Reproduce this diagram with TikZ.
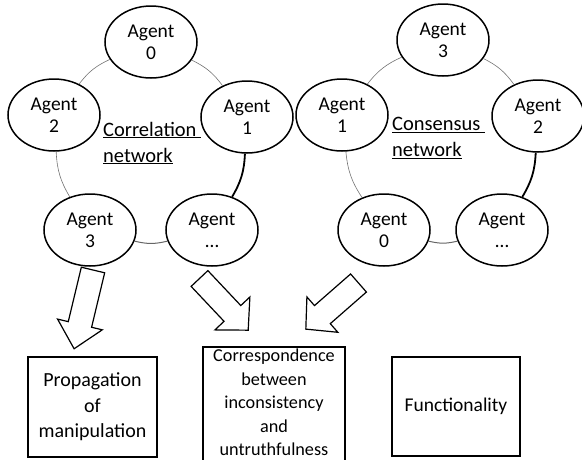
\documentclass[tikz,border=0pt]{standalone}
\usepackage{fontspec}
\setmainfont{Carlito}
\usetikzlibrary{shapes.geometric}
\newcommand{\blockarr}[6]{%
  \begin{scope}[shift={#1}, rotate=#2]
    \draw[barrow] (0,{-#4/2}) -- ({#3-#6},{-#4/2}) -- ({#3-#6},{-#5/2}) -- (#3,0)
      -- ({#3-#6},{#5/2}) -- ({#3-#6},{#4/2}) -- (0,{#4/2}) -- cycle;
  \end{scope}}
\begin{document}
\begin{tikzpicture}[x=1pt,y=-1pt,
  agent/.style={ellipse, draw, line width=1.5pt, minimum width=92pt, minimum height=72pt,
    inner sep=0pt, align=center, font=\fontsize{19.5}{22}\selectfont},
  thinarc/.style={draw=black!55, line width=0.6pt},
  midarc/.style={draw=black!60, line width=1pt},
  boldarc/.style={draw=black, line width=1.8pt},
  box/.style={draw, line width=1.5pt, align=center, inner sep=0pt,
    font=\fontsize{20}{25.5}\selectfont},
  barrow/.style={draw, line width=1.2pt, line join=miter, fill=white},
  netlabel/.style={align=left, inner sep=0pt, font=\fontsize{20.5}{26}\selectfont}
]
\useasboundingbox (0,0) rectangle (582,459);

% left network
\node[agent] (L0) at (151,42) {Agent\\0};
\node[agent] (L2) at (54,115) {Agent\\2};
\node[agent] (L1) at (247,117) {Agent\\1};
\node[agent] (L3) at (90,230) {Agent\\3};
\node[agent] (Ln) at (212,230) {Agent\\…};
\node[netlabel, anchor=west] (Lt) at (103,143) {\underline{Correlation~}\\\underline{network}};
\draw[thinarc] (L0) to[bend right=14] (L2);
\draw[thinarc] (L2) to[bend right=14] (L3);
\draw[midarc] (L3) to[bend right=14] (Ln);
\draw[boldarc] (Ln) to[bend right=14] (L1);
\draw[thinarc] (L1) to[bend right=14] (L0);

% right network
\node[agent] (R3) at (443,40) {Agent\\3};
\node[agent] (R1) at (342,115) {Agent\\1};
\node[agent] (R2) at (538,116) {Agent\\2};
\node[agent] (R0) at (384,230) {Agent\\0};
\node[agent] (Rn) at (502,230) {Agent\\…};
\node[netlabel, anchor=west] (Rt) at (392,138) {\underline{Consensus~}\\\underline{network}};
\draw[thinarc] (R3) to[bend right=14] (R1);
\draw[thinarc] (R1) to[bend right=14] (R0);
\draw[midarc] (R0) to[bend right=14] (Rn);
\draw[boldarc] (Rn) to[bend right=14] (R2);
\draw[thinarc] (R2) to[bend right=14] (R3);

% block arrows
\blockarr{(93,270)}{-103.5}{81}{24}{46}{25}
\blockarr{(199.5,278.5)}{-46.7}{71}{23}{48}{23}
\blockarr{(358.5,283)}{-138.8}{70}{24}{47}{22}

% boxes
\node[box, minimum width=129pt, minimum height=100pt] (prop) at (92.5,407)
  {Propagation\\of\\manipulation};
\node[box, minimum width=142pt, minimum height=114pt] (corr) at (274,404) {};
\node[align=center, inner sep=0pt, anchor=north, font=\fontsize{18.2}{23.5}\selectfont]
  (corrtext) at (274,349) {Correspondence\\between\\inconsistency\\and\\untruthfulness};
\node[box, minimum width=128pt, minimum height=99pt, font=\fontsize{19.5}{25.5}\selectfont]
  (func) at (456,406.5) {Functionality};
\end{tikzpicture}
\end{document}
